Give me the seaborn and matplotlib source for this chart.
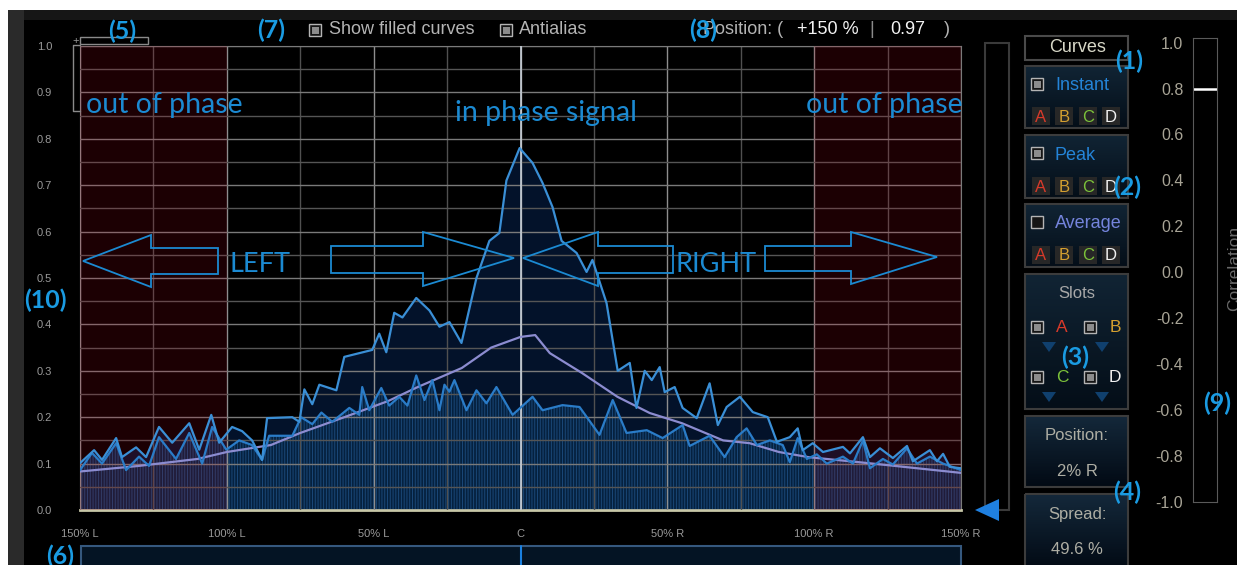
import numpy as np
import matplotlib
matplotlib.use("Agg")
import matplotlib.pyplot as plt
from matplotlib.patches import Rectangle, Polygon
from matplotlib.colors import LinearSegmentedColormap
import seaborn as sns

# stereo position in % (negative = left) and level of each curve
peak_pos = [-150, -145.2, -142.5, -137.7, -135.7, -130.9, -127.5, -123.1, -118.6, -112.8,
            -109.4, -105.3, -102.6, -98.2, -94.8, -91.4, -88.0, -86.3, -77.7, -75.3,
            -73.6, -70.9, -68.5, -62.7, -60.0, -50.5, -48.1, -45.7, -43.0, -40.2,
            -35.5, -31.0, -27.6, -24.2, -20.1, -15.0, -10.6, -7.2, -4.8, -0.3,
            4.1, 7.5, 10.9, 14.0, 19.1, 22.5, 24.5, 29.3, 33.1, 37.2,
            39.5, 42.3, 44.7, 47.4, 49.1, 52.5, 55.2, 60.0, 64.4, 67.2,
            70.2, 74.7, 79.1, 84.2, 87.3, 91.7, 94.4, 96.1, 99.5, 103.0,
            109.8, 112.2, 116.6, 119.0, 122.4, 126.8, 131.6, 133.6, 139.4, 141.8,
            143.9, 146.2, 150]
peak_val = [0.101, 0.129, 0.108, 0.155, 0.114, 0.135, 0.114, 0.179, 0.145, 0.187,
            0.13, 0.205, 0.145, 0.179, 0.17, 0.15, 0.108, 0.198, 0.2, 0.19,
            0.26, 0.228, 0.27, 0.258, 0.33, 0.345, 0.38, 0.34, 0.425, 0.415,
            0.457, 0.43, 0.395, 0.405, 0.36, 0.5, 0.58, 0.597, 0.71, 0.78,
            0.748, 0.705, 0.653, 0.58, 0.554, 0.513, 0.539, 0.446, 0.30, 0.317,
            0.22, 0.30, 0.28, 0.308, 0.254, 0.265, 0.22, 0.198, 0.273, 0.183,
            0.222, 0.244, 0.211, 0.2, 0.147, 0.157, 0.176, 0.129, 0.144, 0.125,
            0.136, 0.122, 0.157, 0.114, 0.133, 0.112, 0.138, 0.105, 0.129, 0.105,
            0.121, 0.093, 0.09]

inst_pos = [-150, -145.9, -142.5, -137.7, -134.3, -129.9, -126.5, -123.1, -117.3, -112.8,
            -108.4, -105.0, -100.2, -95.8, -91.4, -88.0, -85.6, -77.7, -74.7, -70.9,
            -67.8, -64.1, -58.3, -54.9, -53.9, -51.5, -47.4, -44.7, -41.3, -38.5,
            -35.5, -32.7, -30.0, -27.6, -25.9, -24.2, -22.5, -18.4, -15.0, -11.6,
            -8.2, -2.7, 4.1, 7.5, 14.3, 20.1, 26.9, 31.4, 36.1, 43.0,
            48.4, 55.2, 57.6, 64.4, 69.5, 73.6, 77.0, 80.5, 84.9, 89.3,
            91.7, 94.4, 97.5, 100.9, 104.3, 109.8, 113.2, 116.6, 119.0, 123.4,
            126.8, 131.6, 135.0, 139.4, 143.9, 150]
inst_val = [0.086, 0.123, 0.10, 0.144, 0.086, 0.115, 0.095, 0.157, 0.11, 0.166,
            0.10, 0.179, 0.13, 0.15, 0.14, 0.108, 0.16, 0.16, 0.2, 0.185,
            0.21, 0.19, 0.22, 0.205, 0.265, 0.215, 0.263, 0.225, 0.244, 0.225,
            0.29, 0.237, 0.28, 0.215, 0.27, 0.255, 0.28, 0.215, 0.258, 0.23,
            0.265, 0.205, 0.244, 0.215, 0.226, 0.222, 0.162, 0.237, 0.166, 0.172,
            0.155, 0.183, 0.138, 0.16, 0.114, 0.157, 0.176, 0.14, 0.15, 0.14,
            0.103, 0.155, 0.11, 0.12, 0.10, 0.115, 0.10, 0.15, 0.09, 0.11,
            0.098, 0.133, 0.10, 0.115, 0.10, 0.086]

avg_pos = [-150, -130, -110, -100, -85, -75, -60, -45, -35, -20, -10, 0, 5,
           10, 21, 33, 44, 55, 69, 78, 88, 98, 120, 135, 150]
avg_val = [0.083, 0.095, 0.11, 0.125, 0.14, 0.166, 0.2, 0.235, 0.265, 0.306, 0.35, 0.373, 0.377,
           0.338, 0.295, 0.244, 0.209, 0.187, 0.15, 0.144, 0.125, 0.114, 0.1, 0.09, 0.08]

x_ticks = [-150, -100, -50, 0, 50, 100, 150]
x_tick_labels = ["150% L", "100% L", "50% L", "C", "50% R", "100% R", "150% R"]
y_ticks = [0.0, 0.1, 0.2, 0.3, 0.4, 0.5, 0.6, 0.7, 0.8, 0.9, 1.0]
out_of_phase = [(-150, -100), (100, 150)]

corr_ticks = [1.0, 0.8, 0.6, 0.4, 0.2, 0.0, -0.2, -0.4, -0.6, -0.8, -1.0]
corr_value = 0.8

slot_letters = ["A", "B", "C", "D"]
slot_colors = ["#d83a2a", "#d4a030", "#7cc23a", "#f0f0f0"]
readout_pos = "+150 %"
readout_val = "0.97"
position_text = "2% R"
spread_text = "49.6 %"

W, H = 1237, 565
sns.set_style("dark", {"axes.facecolor": "black", "figure.facecolor": "black"})
plt.rcParams["font.family"] = ["Liberation Sans", "DejaVu Sans"]
plt.rcParams["hatch.linewidth"] = 0.7

fig = plt.figure(figsize=(W / 100, H / 100), dpi=100)
fig.patch.set_facecolor("black")

# ---- main panorama plot
ax = fig.add_axes([80 / W, 1 - 510 / H, 881 / W, 464 / H])
ax.set_facecolor("black")
ax.fill_between(peak_pos, peak_val, color="#03122a", lw=0, zorder=1)
ax.fill_between(inst_pos, inst_val, facecolor="#05213f", edgecolor="#1a4878",
                hatch="||||||", lw=0, zorder=1.2)

ax.set_xlim(-150, 150)
ax.set_ylim(0, 1)
ax.set_xticks(x_ticks)
ax.set_xticklabels(x_tick_labels)
ax.set_xticks(np.arange(-125, 150, 50), minor=True)
ax.set_yticks(y_ticks)
ax.set_yticklabels([f"{v:.1f}" for v in y_ticks])
ax.set_yticks(np.arange(0.05, 1.0, 0.1), minor=True)
ax.set_axisbelow(False)
ax.grid(which="major", axis="x", color="#8e8e8e", lw=1)
ax.grid(which="minor", axis="x", color="#505050", lw=1)
ax.grid(which="major", axis="y", color="#7a7a7a", lw=1)
ax.grid(which="minor", axis="y", color="#555555", lw=1)
ax.axvline(0, color="#c8d0d8", lw=1.2, zorder=2.6)
ax.tick_params(which="both", length=0, colors="#9a9a9a", labelsize=8)
ax.tick_params(axis="y", pad=20)
ax.tick_params(axis="x", pad=14)

for lo, hi in out_of_phase:
    ax.axvspan(lo, hi, color="#c00018", alpha=0.15, lw=0, zorder=3)

line_kw = dict(lw=1.6, solid_joinstyle="round", solid_capstyle="round")
sns.lineplot(x=avg_pos, y=avg_val, ax=ax, color="#8c8cd0", zorder=4, **line_kw)
sns.lineplot(x=inst_pos, y=inst_val, ax=ax, color="#2a7cc8", zorder=5, **line_kw)
sns.lineplot(x=peak_pos, y=peak_val, ax=ax, color="#3a8fd6", zorder=6, **line_kw)

for side, col in [("bottom", "#c8c8a8"), ("left", "#9a9ab0"), ("top", "#7a7a7a"), ("right", "#7a7a7a")]:
    ax.spines[side].set_visible(True)
    ax.spines[side].set_color(col)
ax.spines["bottom"].set_linewidth(2)

# ---- correlation meter
cax = fig.add_axes([1193 / W, 1 - 502 / H, 24 / W, 464 / H])
cax.set_facecolor("black")
cax.set_ylim(-1, 1.02)
cax.set_xlim(0, 1)
cax.set_xticks([])
cax.set_yticks(corr_ticks)
cax.set_yticklabels([f"{v:.1f}" for v in corr_ticks])
cax.tick_params(length=0, pad=7, colors="#a8a496", labelsize=11.5)
cax.grid(False)
for s in cax.spines.values():
    s.set_visible(True)
    s.set_color("#5a5a5a")
cax.axhline(corr_value, color="white", lw=1.8)

# ---- overlay for the surrounding interface
ui = fig.add_axes([0, 0, 1, 1], zorder=10)
ui.patch.set_alpha(0)
ui.axis("off")

ui.add_patch(Rectangle((0, 0), W, 10, fc="white", lw=0))
ui.add_patch(Rectangle((0, 0), 8, H, fc="white", lw=0))
ui.add_patch(Rectangle((8, 10), W, 10, fc="#161616", lw=0))
ui.add_patch(Rectangle((8, 10), 16, H, fc="#2a2a2a", lw=0))


def panel(x0, y0, x1, y1, top="#112434", bottom="#040e18"):
    cmap = LinearSegmentedColormap.from_list("p", [top, bottom])
    ui.imshow(np.linspace(0, 1, 50).reshape(-1, 1), cmap=cmap, extent=(x0, x1, y1, y0),
              aspect="auto", zorder=1)
    ui.add_patch(Rectangle((x0, y0), x1 - x0, y1 - y0, fill=False, ec="#3c3c3c", lw=1.5, zorder=2))


def checkbox(x, y, on=True):
    ui.add_patch(Rectangle((x - 6, y - 6), 12, 12, fc="#151515", ec="#b4b4b4", lw=1, zorder=3))
    if on:
        ui.add_patch(Rectangle((x - 3.5, y - 3.5), 7, 7, fc="#8c8c8c", lw=0, zorder=4))


def letter_buttons(y):
    for bx, letter, col in zip([1041, 1064, 1088, 1111], slot_letters, slot_colors):
        ui.add_patch(Rectangle((bx - 9, y - 9), 18, 18, fc="#272727", lw=0, zorder=3))
        ui.text(bx, y + 1, letter, color=col, ha="center", va="center", fontsize=12, zorder=4)


def down_arrow(x, y):
    ui.add_patch(Polygon([(x - 7, y - 5), (x + 7, y - 5), (x, y + 5)], fc="#10406e", lw=0, zorder=3))


# slider and bottom position bar
ui.add_patch(Rectangle((985, 43), 24, 467, fill=False, ec="#3a3a3a", lw=1.5))
ui.add_patch(Polygon([(975, 510), (999, 499), (999, 521)], fc="#1f80e0", lw=0))
ui.add_patch(Rectangle((81, 546), 880, 22, fc="#041424", ec="#35587e", lw=1.5))
ui.plot([521, 521], [546, 565], color="#1a80e0", lw=1.5)

# top bar
top_kw = dict(fontsize=13, va="center")
checkbox(315, 30)
ui.text(329, 30, "Show filled curves", color="#b4b4b4", **top_kw)
checkbox(506, 30)
ui.text(519, 30, "Antialias", color="#b4b4b4", **top_kw)
ui.text(703, 30, "Position: (", color="#b4b4b4", **top_kw)
ui.text(797, 30, readout_pos, color="#f2f2f2", **top_kw)
ui.text(872, 30, "|", color="#8a8a8a", ha="center", **top_kw)
ui.text(890, 30, readout_val, color="#f2f2f2", **top_kw)
ui.text(944, 30, ")", color="#b4b4b4", **top_kw)

# (5) bracket
ui.add_patch(Rectangle((80, 37), 68, 7, fill=False, ec="#8a8a8a", lw=1))
ui.plot([80, 73, 73, 80], [45, 45, 111, 111], color="#8a8a8a", lw=1)
ui.text(76, 41, "+", color="#9a9a9a", fontsize=8, ha="center", va="center")

# right-hand control panels
ui.add_patch(Rectangle((1025, 36), 103, 24, fc="black", ec="#4a4a4a", lw=1.5))
ui.text(1078, 48, "Curves", color="#d8d8c8", fontsize=13, ha="center", va="center")
for y0, y1, name, col, on in [(66, 128, "Instant", "#2484d8", True),
                              (135, 198, "Peak", "#2484d8", True),
                              (204, 267, "Average", "#7484dc", False)]:
    panel(1025, y0, 1128, y1)
    checkbox(1037, y0 + 18, on)
    ui.text(1055, y0 + 20, name, color=col, fontsize=13, va="center", zorder=4)
    letter_buttons(y1 - 12)

panel(1025, 274, 1128, 409)
ui.text(1077, 294, "Slots", color="#a8a8a8", fontsize=12, ha="center", va="center", zorder=4)
for (cx, cy), letter, col in zip([(1037, 327), (1090, 327), (1037, 377), (1090, 377)],
                                 slot_letters, slot_colors):
    checkbox(cx, cy)
    ui.text(cx + 25, cy + 1, letter, color=col, fontsize=12.5, ha="center", va="center", zorder=4)
    down_arrow(cx + 12, cy + 20)

for y0, y1, label, value in [(416, 487, "Position:", position_text), (494, 570, "Spread:", spread_text)]:
    panel(1025, y0, 1128, y1, top="#14283a", bottom="#020a14")
    ui.text(1077, y0 + 20, label, color="#aeaea4", fontsize=12, ha="center", va="center", zorder=4)
    ui.text(1077, y0 + 55, value, color="#aeaea4", fontsize=12, ha="center", va="center", zorder=4)

ui.text(1235, 268, "Correlation", color="#6a6a6a", fontsize=12.5, rotation=90, ha="center", va="center")

# explanatory overlay text and arrows
blue = "#1b8ad2"
lato = ["Lato", "DejaVu Sans"]
for x, y, s, size in [(86, 113, "out of phase", 20.5), (806, 113, "out of phase", 20.5),
                      (455, 121, "in phase signal", 20.5), (230, 272, "LEFT", 19.5),
                      (676, 272, "RIGHT", 19.5)]:
    ui.text(x, y, s, color=blue, fontsize=size, family=lato, va="baseline", zorder=8)

arrows = [
    [(83, 261), (151, 235), (151, 248), (218, 248), (218, 274), (151, 274), (151, 287)],
    [(331, 246), (423, 246), (423, 232), (514, 258), (423, 286), (423, 273), (331, 273)],
    [(523, 258), (598, 232), (598, 246), (673, 246), (673, 273), (598, 273), (598, 286)],
    [(765, 246), (851, 246), (851, 232), (937, 257), (851, 284), (851, 271), (765, 271)],
]
for pts in arrows:
    ui.add_patch(Polygon(pts, closed=True, fill=False, ec=blue, lw=1.3, zorder=8))

for x, y, s in [(122, 31, "(5)"), (271, 30, "(7)"), (703, 30, "(8)"), (1129, 61, "(1)"),
                (1127, 187, "(2)"), (1075, 357, "(3)"), (1127, 492, "(4)"), (1217, 403, "(9)"),
                (45, 300, "(10)"), (60, 556, "(6)")]:
    ui.text(x, y, s, color="#1a9be2", fontsize=18, fontweight="bold",
            family=lato, ha="center", va="center", zorder=9)

ui.set_xlim(0, W)
ui.set_ylim(H, 0)

fig.savefig("out.png", dpi=100, facecolor="black")
